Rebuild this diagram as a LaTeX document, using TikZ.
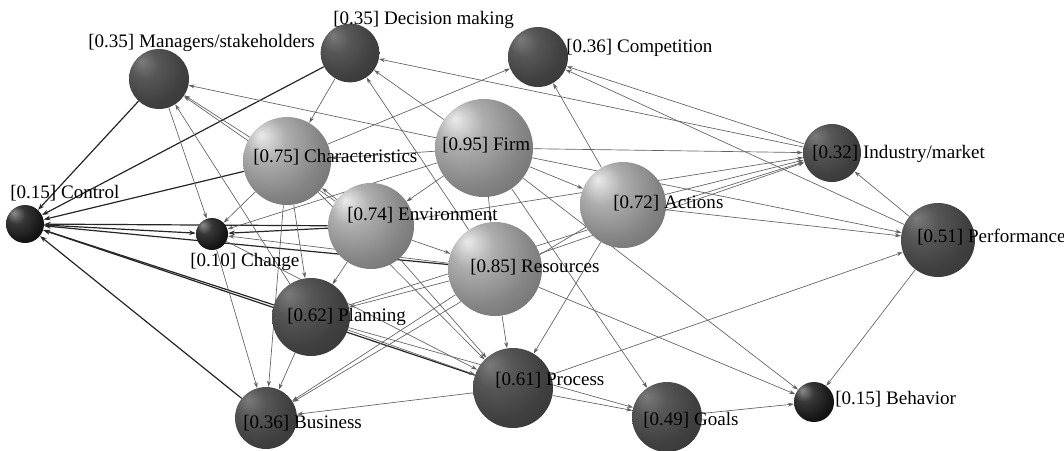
\documentclass[tikz,border=0pt]{standalone}
\usepackage{fontspec}
\setmainfont{Liberation Serif}
\usetikzlibrary{arrows.meta,positioning,backgrounds}

% sombreados de las esferas
\pgfdeclareradialshading{claro}{\pgfpoint{-15bp}{15bp}}{color(0bp)=(white!92!black);
    color(12bp)=(black!32); color(28bp)=(black!48); color(42bp)=(black!58); color(65bp)=(black!68)}
\pgfdeclareradialshading{oscuro}{\pgfpoint{-15bp}{15bp}}{color(0bp)=(black!52);
    color(12bp)=(black!66); color(28bp)=(black!75); color(42bp)=(black!79); color(65bp)=(black!84)}
\pgfdeclareradialshading{negro}{\pgfpoint{-15bp}{15bp}}{color(0bp)=(black!45);
    color(12bp)=(black!78); color(30bp)=(black!92); color(65bp)=(black)}

\begin{document}
\begin{tikzpicture}[x=0.75pt,y=-0.75pt,
        esfera/.style={circle,inner sep=0pt,shading=#1},
        etiq/.style={anchor=west,inner sep=0pt,text=black,font=\fontsize{14.3}{16}\selectfont},
        flecha/.style={draw=black!62,line width=0.5pt,-{Stealth[length=4.5pt,width=3pt]}},
        fuerte/.style={draw=black!85,line width=0.9pt,-{Stealth[length=5pt,width=3.5pt]}}]

        \useasboundingbox (0,0) rectangle (1064,450);

        % Esferas
        \foreach \n/\x/\y/\diam/\col in {control/25/224/28.5/negro, managers/159/79/45/oscuro,
            decision/350/53/44/oscuro, competition/538/57/45/oscuro, charact/287/161/66/claro,
            firm/484/148/73.5/claro, environ/371/226/64.5/claro, actions/623/205/64.5/claro,
            industry/832/153/43.5/oscuro, performance/938/240/55.5/oscuro, change/212/234/24/negro,
            resources/495/269/70.5/claro, planning/311/317/58.5/oscuro, process/513/388/60/oscuro,
            business/266/418/46.5/oscuro, goals/667/417/52.5/oscuro, behavior/814/402/30/negro}
            \node[esfera=\col,minimum size=\diam pt] (\n) at (\x,\y) {};

        % Flechas
        \begin{scope}[on background layer]
            \foreach \a/\b in {managers/control, decision/control, charact/control, environ/control,
                resources/control, planning/control, process/control, business/control,
                control/change, environ/change}
                \draw[fuerte] (\a) -- (\b);
            \foreach \a/\b in {managers/change, charact/change, firm/change, resources/change,
                firm/managers, charact/managers, environ/managers, planning/managers,
                firm/decision, industry/decision, resources/decision, decision/charact,
                actions/competition, industry/competition, performance/competition, charact/competition,
                firm/industry, actions/industry, resources/industry, environ/industry,
                performance/industry, planning/industry,
                firm/performance, actions/performance, process/performance,
                performance/behavior, firm/behavior, resources/behavior, goals/behavior,
                process/goals, planning/goals, firm/goals,
                resources/process, actions/process, environ/process, planning/process,
                charact/process, change/process,
                change/business, charact/business, planning/business, resources/business,
                process/business, actions/business,
                charact/planning, environ/planning, resources/planning,
                firm/environ, environ/charact, environ/resources, firm/resources,
                firm/actions, firm/charact}
                \draw[flecha] (\a) -- (\b);
        \end{scope}

        % Etiquetas
        \foreach \n/\x/\y/\t in {control/10/193/{[0.15] Control},
            managers/88/43/{[0.35] Managers/stakeholders},
            decision/333/20/{[0.35] Decision making},
            competition/566/48/{[0.36] Competition},
            charact/253/157/{[0.75] Characteristics},
            firm/442/145/{[0.95] Firm},
            environ/347/215/{[0.74] Environment},
            actions/613/203/{[0.72] Actions},
            industry/812/154/{[0.32] Industry/market},
            performance/917/237/{[0.51] Performance},
            change/190/262/{[0.10] Change},
            resources/470/267/{[0.85] Resources},
            planning/287/317/{[0.62] Planning},
            process/495/380/{[0.61] Process},
            business/243/423/{[0.36] Business},
            goals/643/420/{[0.49] Goals},
            behavior/835/399/{[0.15] Behavior}}
            \node[etiq] (\n-t) at (\x,\y) {\t};
\end{tikzpicture}
\end{document}
